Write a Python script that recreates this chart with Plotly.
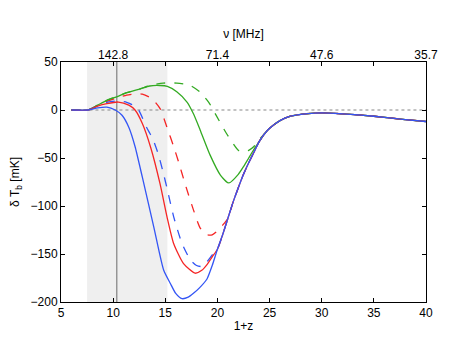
import plotly.graph_objects as go

# redshift axis (1+z) and brightness temperature [mK]
blue_x = [6, 7.6, 8.5, 9.4, 10.2, 10.85, 11.5, 12.1, 12.8, 13.9, 14.85, 15.5, 16.0, 16.6,
          17.2, 17.7, 18.3, 19.0, 19.5]
blue_y = [0, 0, 2.2, 3, 0, -5.5, -18, -38, -70, -122, -167, -181, -191, -196.5,
          -195, -191, -185, -176, -162]

blue_d_x = [6, 7.6, 8.5, 9.4, 10.4, 11.3, 11.8, 12.44, 13.2, 13.8, 14.3, 14.75, 15.2, 15.8,
            16.6, 17.4, 18.0, 18.5, 19.0, 19.5]
blue_d_y = [0, 0, 4.5, 8, 9.5, 8, 5.6, 0, -18, -30, -45, -63, -83, -111,
            -139, -156, -162, -163, -158, -151]

red_x = [6, 7.6, 8.5, 9.4, 10.5, 11.5, 12.1, 12.8, 13.6, 14.5, 15.16, 15.8, 16.75,
         17.87, 18.5, 19.0, 19.5]
red_y = [0, 0, 4, 6.6, 8.3, 5, 0, -14, -39, -77, -111, -139, -160,
         -170, -167, -161, -153]

red_d_x = [6, 7.6, 8.5, 9.4, 10.5, 11.3, 12.3, 12.8, 13.7, 14.5, 15.16, 15.8, 16.3, 16.9,
           17.7, 18.35, 19.0, 19.5, 20.0, 20.5]
red_d_y = [0, 0, 4.5, 9, 13, 15.5, 17, 16.5, 12, 1.5, -18, -38, -55, -77,
           -104, -123, -130, -130, -126, -120]

green_x = [6, 7.6, 8.5, 9.4, 10.4, 11.3, 12.6, 13.5, 14.5, 15.2, 16.1, 17.1, 17.7, 18.35,
           19.3, 20.3, 21.1, 22.0, 22.5, 23.0, 23.5]
green_y = [0, 0, 5, 10, 14, 18, 22, 25, 25.5, 24.5, 19, 8, -4, -21,
           -47, -68, -76, -67, -59, -50, -41]

green_d_x = [6, 7.6, 8.5, 9.4, 10.4, 11.3, 12.6, 13.5, 14.8, 16.1, 17.4, 18.35, 19.15, 19.8,
             20.9, 22.0, 22.5, 23.0, 23.5, 24.0]
green_d_y = [0, 0, 5, 10, 14, 18, 22, 25.5, 28, 28, 25.5, 18.5, 8.3, -4,
             -25, -42, -44, -42, -38, -31]

# common high-redshift tail shared by all models
tail_x = [20.0, 20.5, 21.0, 21.5, 22.0, 22.5, 23.0, 23.5, 24.0, 24.5, 25, 26, 27, 28, 29,
          30, 32, 35, 38, 40]
tail_y = [-145, -130, -113, -96, -81, -67, -55, -44, -33, -25, -19, -11, -6.5, -4.5, -3.5,
          -3, -4, -6.5, -10, -12]

nu_ticks = [10, 20, 30, 40]
nu_labels = ["142.8", "71.4", "47.6", "35.7"]

BLUE = "#3355f5"
RED = "#f52525"
GREEN = "#33aa22"


def with_tail(xs, ys):
    x_out = list(xs) + [t for t in tail_x if t > xs[-1]]
    y_out = list(ys) + [v for t, v in zip(tail_x, tail_y) if t > xs[-1]]
    return x_out, y_out


fig = go.Figure()

# zero reference line
fig.add_trace(go.Scatter(x=[6, 40], y=[0, 0], mode="lines",
                         line=dict(color="#888888", width=1.2, dash="dot"),
                         showlegend=False, hoverinfo="skip"))

curves = [
    (green_d_x, green_d_y, GREEN, "dash"),
    (red_d_x, red_d_y, RED, "dash"),
    (blue_d_x, blue_d_y, BLUE, "dash"),
    (green_x, green_y, GREEN, "solid"),
    (red_x, red_y, RED, "solid"),
    (blue_x, blue_y, BLUE, "solid"),
]
for xs, ys, col, dash in curves:
    cx, cy = with_tail(xs, ys)
    fig.add_trace(go.Scatter(x=cx, y=cy, mode="lines",
                             line=dict(color=col, width=1.3, dash=dash,
                                       shape="spline", smoothing=0.6),
                             showlegend=False))

# dummy trace for the top frequency axis
fig.add_trace(go.Scatter(x=[5, 40], y=[0, 0], xaxis="x2", mode="lines",
                         line=dict(width=0), showlegend=False, hoverinfo="skip"))

fig.add_shape(type="rect", x0=7.5, x1=15.2, y0=-200, y1=50, xref="x", yref="y",
              fillcolor="#efefef", line=dict(width=0), layer="below")
fig.add_shape(type="line", x0=10.35, x1=10.35, y0=-200, y1=50, xref="x", yref="y",
              line=dict(color="#808080", width=1.2), layer="below")

font = dict(family="Liberation Sans, Arial, sans-serif", size=12, color="black")

# page body has an 8px margin, so the figure is a bit smaller than the window
fig.update_layout(
    width=463, height=332,
    margin=dict(l=53, r=45, t=54, b=38),
    paper_bgcolor="white", plot_bgcolor="white",
    font=font,
    xaxis=dict(range=[5, 40], tickvals=[5, 10, 15, 20, 25, 30, 35, 40],
               ticks="inside", ticklen=4, tickcolor="black",
               showline=True, linecolor="black", linewidth=1, mirror="ticks",
               showgrid=False, zeroline=False, automargin=False,
               title=dict(text="1+z", standoff=2, font=font)),
    xaxis2=dict(range=[5, 40], overlaying="x", side="top", tickvals=nu_ticks,
                ticktext=nu_labels, ticks="", showline=False, showgrid=False,
                zeroline=False, automargin=False,
                title=dict(text="ν [MHz]", standoff=6, font=font)),
    yaxis=dict(range=[-200, 50], tickvals=[-200, -150, -100, -50, 0, 50],
               ticktext=["\u2212200", "\u2212150", "\u2212100", "\u221250", "0", "50"],
               ticks="inside", ticklen=4, tickcolor="black",
               showline=True, linecolor="black", linewidth=1, mirror="ticks",
               showgrid=False, zeroline=False, automargin=False,
               title=dict(text="δ T<sub>b</sub> [mK]", standoff=10, font=font)),
)

fig.write_html("out.html")
